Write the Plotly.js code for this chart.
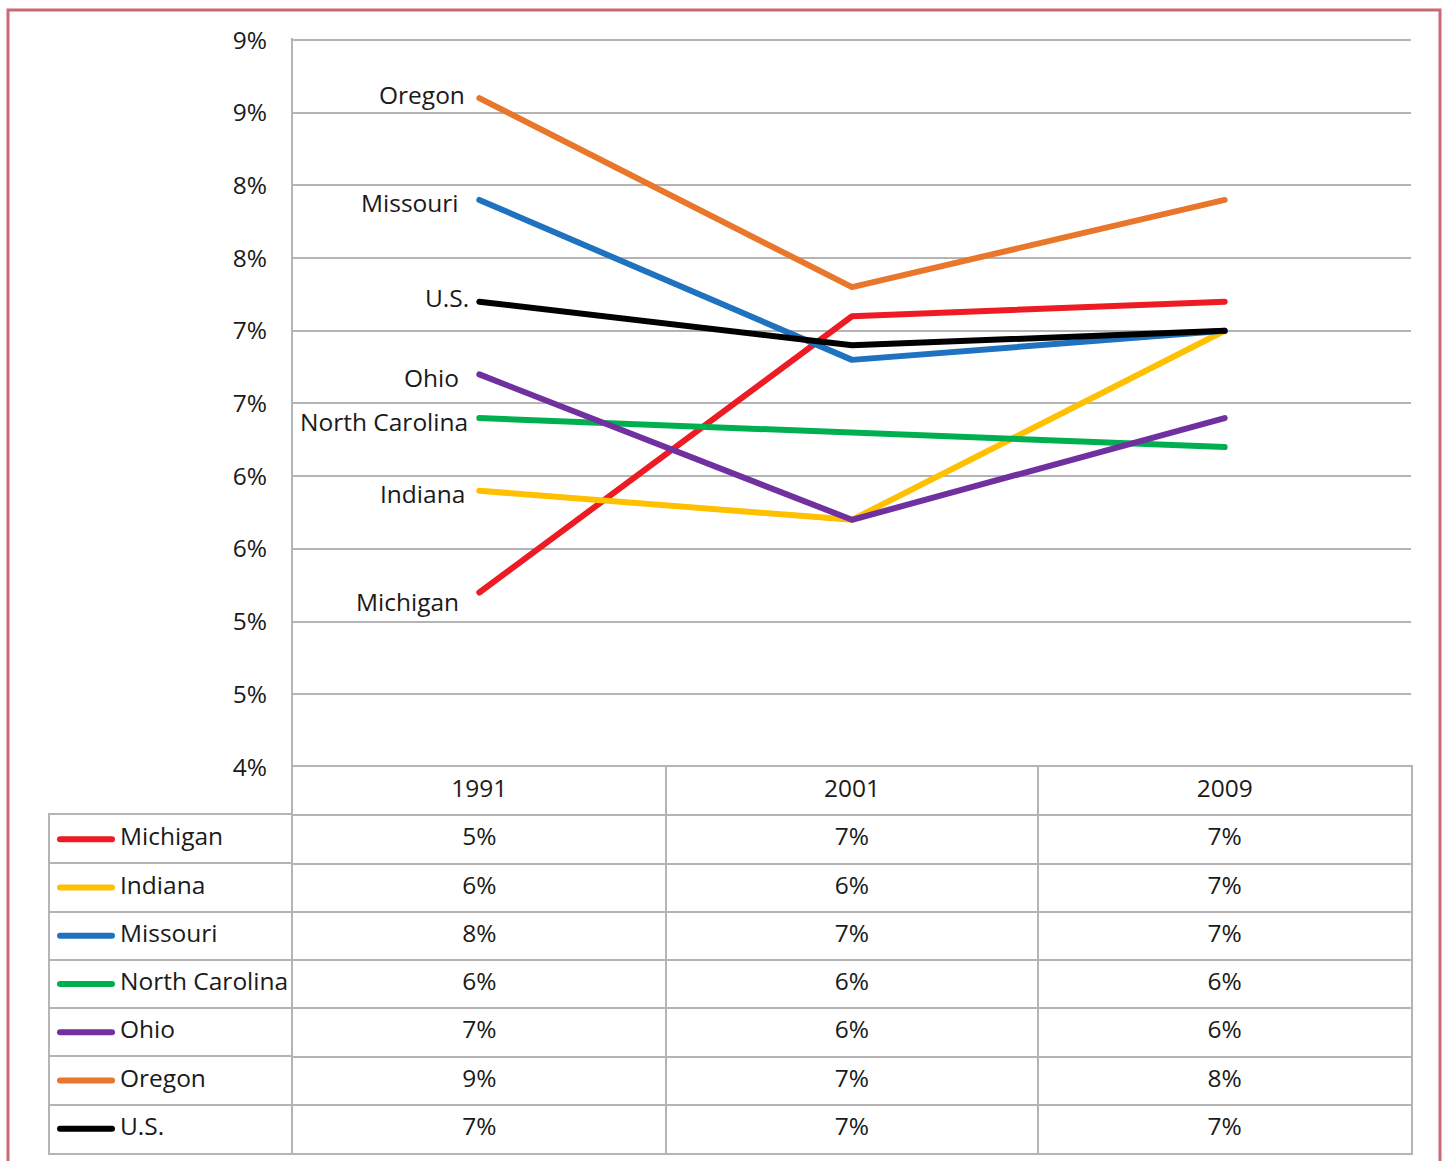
<!DOCTYPE html>
<html>
<head>
<meta charset="utf-8">
<script src="https://cdn.plot.ly/plotly-3.0.1.min.js"></script>
<style>
  html, body { margin: 0; padding: 0; background: #fff; }
  #chart { width: 1443px; height: 1161px; }
  path.js-line { stroke-linecap: round !important; stroke-linejoin: round !important; }
</style>
</head>
<body>
<div id="chart"></div>
<script>
// ---- data ----
const years = ['1991', '2001', '2009'];
const seriesNames = ['Michigan', 'Indiana', 'Missouri', 'North Carolina', 'Ohio', 'Oregon', 'U.S.'];
const michigan = [5.2, 7.1, 7.2];
const indiana = [5.9, 5.7, 7.0];
const missouri = [7.9, 6.8, 7.0];
const northCarolina = [6.4, 6.3, 6.2];
const ohio = [6.7, 5.7, 6.4];
const oregon = [8.6, 7.3, 7.9];
const us = [7.2, 6.9, 7.0];
const yTickValues = [4, 4.5, 5, 5.5, 6, 6.5, 7, 7.5, 8, 8.5, 9];
const yTickLabels = ['4%', '5%', '5%', '6%', '6%', '7%', '7%', '8%', '8%', '9%', '9%'];
const headerKey = 'hdr';

// ---- styles ----
const seriesValues = [michigan, indiana, missouri, northCarolina, ohio, oregon, us];
const seriesColors = ['#ed1c24', '#ffc000', '#1f72bf', '#00b050', '#7030a0', '#e8762b', '#000000'];
const labelYShift = [-9, -3, -3, -3, -3, 4, 4];
const labelXShift = [-18, -12, -18, -9, -18, -12, -8];
const FONT = 'Open Sans, Liberation Sans, sans-serif';
const FS = 24.5;
const TXT = '#1a1a1a';
const GRID = '#b4b4b4';
const LW = 6;
const W = 1443, H = 1161;
const px = v => v / W;
const py = v => (H - v) / H;

const traces = [];
// main lines
seriesNames.forEach((name, i) => {
  traces.push({
    type: 'scatter', mode: 'lines', x: years, y: seriesValues[i],
    xaxis: 'x', yaxis: 'y',
    line: { color: seriesColors[i], width: LW },
    hoverinfo: 'skip', showlegend: false
  });
});
// table header
traces.push({
  type: 'scatter', mode: 'text', x: years, y: years.map(() => headerKey),
  text: years, xaxis: 'x2', yaxis: 'y2', textposition: 'middle center',
  textfont: { family: FONT, size: FS, color: TXT }, hoverinfo: 'skip', showlegend: false
});
// table values
seriesNames.forEach((name, i) => {
  traces.push({
    type: 'scatter', mode: 'text', x: years, y: years.map(() => name),
    text: seriesValues[i].map(v => v.toFixed(0) + '%'),
    xaxis: 'x2', yaxis: 'y2', textposition: 'middle center',
    textfont: { family: FONT, size: FS, color: TXT }, hoverinfo: 'skip', showlegend: false
  });
});
// legend column: key lines
seriesNames.forEach((name, i) => {
  traces.push({
    type: 'scatter', mode: 'lines', x: [60, 112], y: [name, name],
    xaxis: 'x3', yaxis: 'y3',
    line: { color: seriesColors[i], width: LW },
    hoverinfo: 'skip', showlegend: false
  });
});
traces.push({
  type: 'scatter', mode: 'text', x: seriesNames.map(() => 120), y: seriesNames,
  text: seriesNames, xaxis: 'x3', yaxis: 'y3', textposition: 'middle right',
  textfont: { family: FONT, size: FS, color: TXT }, hoverinfo: 'skip', showlegend: false
});

const annotations = seriesNames.map((name, i) => ({
  x: 0, y: seriesValues[i][0], xref: 'x', yref: 'y',
  text: name, showarrow: false, xanchor: 'right', yanchor: 'middle',
  xshift: labelXShift[i], yshift: labelYShift[i],
  font: { family: FONT, size: FS, color: TXT }
}));

const layout = {
  width: W, height: H,
  margin: { l: 0, r: 0, t: 0, b: 0 },
  paper_bgcolor: '#fff', plot_bgcolor: 'rgba(0,0,0,0)',
  showlegend: false,
  font: { family: FONT, size: FS, color: TXT },
  xaxis: {
    type: 'category', domain: [px(293), px(1411)], anchor: 'y',
    categoryorder: 'array', categoryarray: years,
    range: [-0.5, 2.5], showgrid: false, showticklabels: false, zeroline: false,
    showline: false, fixedrange: true
  },
  yaxis: {
    domain: [py(767), py(37.8)], anchor: 'x', range: [4, 9.015],
    tickmode: 'array', tickvals: yTickValues, ticktext: yTickLabels,
    showgrid: true, gridcolor: GRID, gridwidth: 2, zeroline: false,
    showline: true, linecolor: GRID, linewidth: 2, ticks: '',
    ticklabelstandoff: 19,
    tickfont: { family: FONT, size: FS, color: TXT }, fixedrange: true
  },
  xaxis2: {
    type: 'category', domain: [px(293), px(1411)], anchor: 'y2',
    categoryorder: 'array', categoryarray: years,
    range: [-0.5, 2.5], showgrid: true, tickson: 'boundaries', gridcolor: GRID, gridwidth: 2,
    showticklabels: false, ticks: '', zeroline: false,
    showline: true, mirror: true, linecolor: GRID, linewidth: 2, fixedrange: true
  },
  yaxis2: {
    type: 'category', domain: [py(1153), py(767)], anchor: 'x2',
    categoryorder: 'array', categoryarray: [headerKey].concat(seriesNames),
    range: [7.5, -0.5], showgrid: true, tickson: 'boundaries', gridcolor: GRID, gridwidth: 2,
    showticklabels: false, ticks: '', zeroline: false,
    showline: true, mirror: true, linecolor: GRID, linewidth: 2, fixedrange: true
  },
  xaxis3: {
    domain: [px(50), px(293)], anchor: 'y3', range: [50, 293],
    showgrid: false, showticklabels: false, zeroline: false, ticks: '',
    showline: true, mirror: true, linecolor: GRID, linewidth: 2, fixedrange: true
  },
  yaxis3: {
    type: 'category', domain: [py(1153), py(815)], anchor: 'x3',
    categoryorder: 'array', categoryarray: seriesNames,
    range: [6.5, -0.5], showgrid: true, tickson: 'boundaries', gridcolor: GRID, gridwidth: 2,
    showticklabels: false, ticks: '', zeroline: false,
    showline: true, mirror: false, linecolor: GRID, linewidth: 2, fixedrange: true
  },
  shapes: [
    {
      type: 'rect', xref: 'paper', yref: 'paper',
      x0: px(8), x1: px(1440), y0: -0.02, y1: py(10),
      line: { color: '#c66a76', width: 3 }, fillcolor: 'rgba(0,0,0,0)', layer: 'above'
    }
  ],
  annotations: annotations
};

Plotly.newPlot('chart', traces, layout, { displayModeBar: false, staticPlot: true });
</script>
</body>
</html>
